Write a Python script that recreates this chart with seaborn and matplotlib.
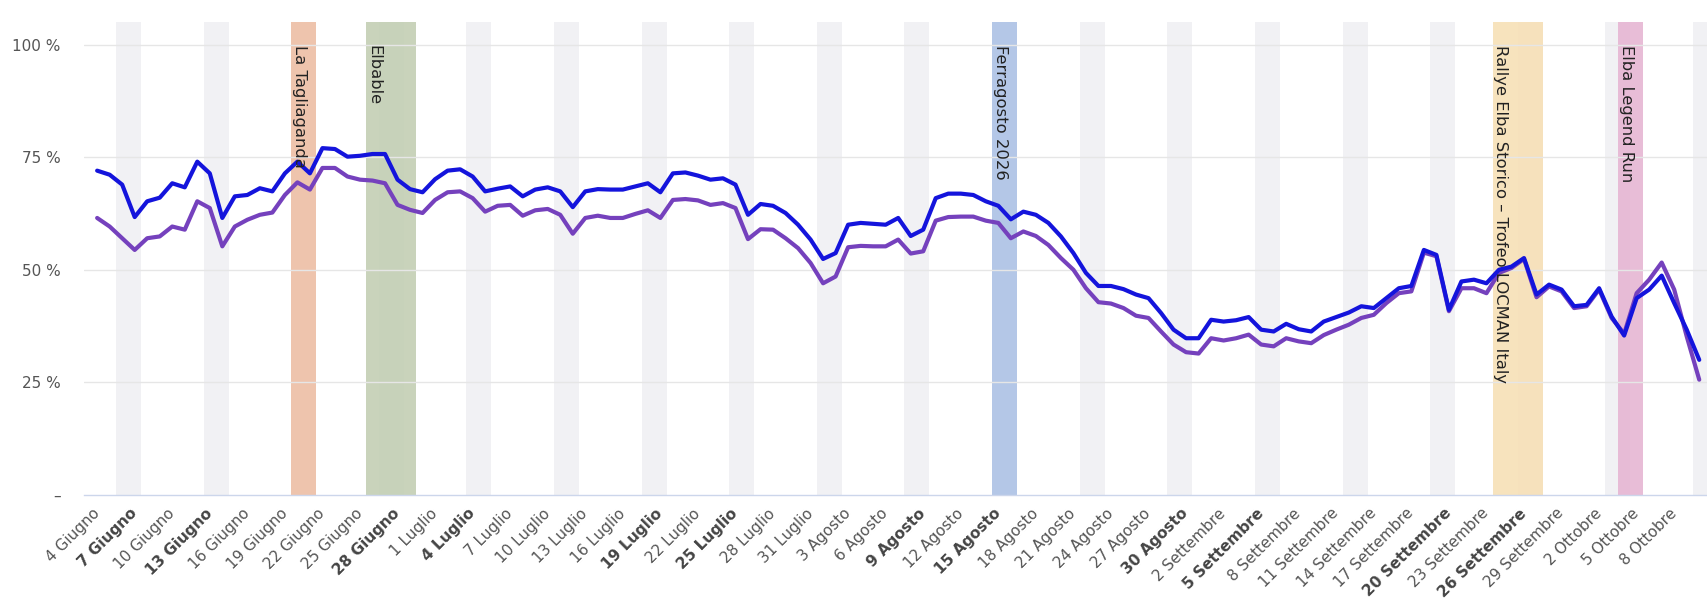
import pandas as pd
import matplotlib
matplotlib.use("Agg")
import matplotlib.pyplot as plt
import seaborn as sns
import numpy as np

# daily occupancy, 4 Giugno -> 10 Ottobre 2026
start_date = "2026-06-04"
blue_values = [
    72.0, 71.1, 68.9, 61.7, 65.2, 66.0, 69.2, 68.3, 74.0, 71.4,
    61.5, 66.3, 66.6, 68.1, 67.4, 71.4, 74.0, 71.4, 77.0, 76.8,
    75.1, 75.3, 75.7, 75.7, 70.0, 67.9, 67.2, 70.1, 72.0, 72.3,
    70.7, 67.4, 68.0, 68.5, 66.3, 67.8, 68.3, 67.4, 63.9, 67.4,
    67.9, 67.8, 67.8, 68.5, 69.2, 67.2, 71.4, 71.6, 70.9, 70.0,
    70.3, 68.9, 62.2, 64.6, 64.2, 62.6, 60.0, 56.7, 52.4, 53.7,
    60.0, 60.4, 60.2, 60.0, 61.5, 57.5, 58.9, 65.9, 66.9, 66.9,
    66.6, 65.2, 64.2, 61.2, 62.9, 62.2, 60.4, 57.4, 53.7, 49.3,
    46.4, 46.4, 45.7, 44.5, 43.7, 40.4, 36.7, 34.8, 34.8, 38.9,
    38.5, 38.8, 39.5, 36.7, 36.3, 38.0, 36.8, 36.3, 38.5, 39.5,
    40.5, 41.9, 41.5, 43.7, 45.9, 46.4, 54.4, 53.3, 41.1, 47.4,
    47.8, 47.0, 50.0, 50.7, 52.6, 44.5, 46.7, 45.6, 41.9, 42.2,
    45.9, 39.6, 35.4, 43.7, 45.6, 48.7, 42.6, 36.7, 30.0,
]
purple_values = [
    61.5, 59.6, 57.0, 54.4, 57.0, 57.4, 59.6, 58.9, 65.2, 63.7,
    55.2, 59.6, 61.1, 62.2, 62.7, 66.6, 69.4, 67.8, 72.6, 72.6,
    70.7, 70.0, 69.8, 69.2, 64.4, 63.3, 62.6, 65.5, 67.2, 67.4,
    65.9, 62.9, 64.2, 64.4, 62.0, 63.2, 63.5, 62.2, 58.0, 61.5,
    62.0, 61.5, 61.5, 62.4, 63.2, 61.5, 65.5, 65.7, 65.4, 64.4,
    64.8, 63.7, 56.8, 59.0, 58.9, 57.0, 54.8, 51.5, 47.0, 48.5,
    55.0, 55.3, 55.2, 55.2, 56.7, 53.6, 54.1, 60.9, 61.7, 61.8,
    61.8, 60.9, 60.4, 57.0, 58.5, 57.5, 55.5, 52.6, 50.0, 45.9,
    42.8, 42.5, 41.5, 39.8, 39.3, 36.3, 33.4, 31.7, 31.4, 34.8,
    34.3, 34.8, 35.6, 33.4, 33.0, 34.8, 34.1, 33.7, 35.5, 36.7,
    37.8, 39.3, 40.0, 42.6, 44.8, 45.2, 53.8, 53.0, 40.8, 45.9,
    45.9, 44.8, 49.3, 50.4, 52.4, 43.9, 46.3, 45.2, 41.5, 41.9,
    45.6, 39.3, 35.8, 44.8, 47.8, 51.6, 45.6, 35.2, 25.6,
]

# events: name, first day, last day, colour
event_names = ["La Tagliaganda", "Elbable", "Ferragosto 2026",
               "Rallye Elba Storico – Trofeo LOCMAN Italy", "Elba Legend Run"]
event_starts = ["2026-06-20", "2026-06-26", "2026-08-15", "2026-09-24", "2026-10-04"]
event_ends = ["2026-06-21", "2026-06-29", "2026-08-16", "2026-09-27", "2026-10-05"]
event_colors = ["#eebfa6", "#c3cfb4", "#aec3e6", "#f7e0b6", "#e6b6d3"]

month_names = {6: "Giugno", 7: "Luglio", 8: "Agosto", 9: "Settembre", 10: "Ottobre"}
y_ticks = [0, 25, 50, 75, 100]
y_labels = ["–", "25 %", "50 %", "75 %", "100 %"]

dates = pd.date_range(start_date, periods=len(blue_values), freq="D")
t0 = dates[0]
df = pd.DataFrame({"day": np.arange(len(dates)), "blue": blue_values, "purple": purple_values})

sns.set_style("white")
plt.rcParams["font.family"] = ["DejaVu Sans"]

W, H = 1708, 601
fig = plt.figure(figsize=(W / 100, H / 100), dpi=100)
ax = fig.add_axes([84 / W, 106 / H, 1 - 84 / W, (495 - 22) / H])

# weekend bands (Sat + Sun)
for d, dt in zip(df["day"], dates):
    if dt.weekday() == 5:
        ax.axvspan(d - 0.5, d + 1.5, color="#f1f1f4", lw=0, zorder=0)

# event bands + labels
for name, s, e, c in zip(event_names, event_starts, event_ends, event_colors):
    ds = (pd.Timestamp(s) - t0).days
    de = (pd.Timestamp(e) - t0).days
    ax.axvspan(ds - 0.5, de + 0.5, color=c, alpha=0.9, lw=0, zorder=0.5)
    ax.text(ds - 0.45, 99.8, name, rotation=270, ha="left", va="top",
            fontsize=11.8, color="#222222", zorder=5)

for v in y_ticks[1:]:
    ax.axhline(v, color="#e6e6e6", lw=1, zorder=1)

sns.lineplot(data=df, x="day", y="purple", ax=ax, color="#7541bd", lw=3.0,
             zorder=3, solid_joinstyle="round", solid_capstyle="round")
sns.lineplot(data=df, x="day", y="blue", ax=ax, color="#1414dc", lw=3.0,
             zorder=4, solid_joinstyle="round", solid_capstyle="round")

ax.set_xlim(-1.05, 128.7)
ax.set_ylim(0, 105)
ax.set_xlabel("")
ax.set_ylabel("")

for sp in ["top", "right", "left"]:
    ax.spines[sp].set_visible(False)
ax.spines["bottom"].set_color("#ccd6eb")
ax.spines["bottom"].set_linewidth(1)

ax.set_yticks(y_ticks)
ax.set_yticklabels(y_labels, fontsize=11, color="#555555")
ax.tick_params(axis="y", length=0, pad=17)

tick_days = list(range(0, len(dates), 3))
ax.set_xticks(tick_days)
labels = []
for d in tick_days:
    dt = dates[d]
    labels.append(f"{dt.day} {month_names[dt.month]}")
ax.set_xticklabels(labels, rotation=45, ha="right", va="center",
                   rotation_mode="anchor", fontsize=11, color="#555555")
for d, lab in zip(tick_days, ax.get_xticklabels()):
    if dates[d].weekday() >= 5:
        lab.set_fontweight("bold")
        lab.set_color("#444444")
ax.tick_params(axis="x", length=8.5, width=1, color="#ccd6eb", pad=3)

fig.savefig("out.png", dpi=100)
